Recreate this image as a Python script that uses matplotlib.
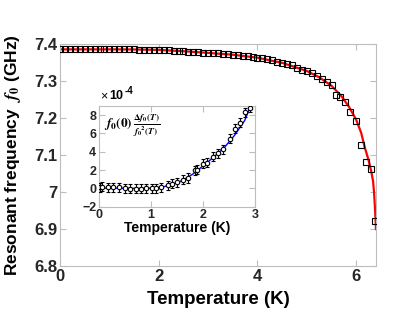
import numpy as np
import matplotlib
matplotlib.use("Agg")
import matplotlib.pyplot as plt

plt.rcParams["font.family"] = ["Liberation Sans", "DejaVu Sans"]
plt.rcParams["font.weight"] = "bold"
plt.rcParams["mathtext.fontset"] = "stix"

# main panel: measured resonance (GHz) vs temperature (K)
t_meas = [0.0, 0.1, 0.2, 0.3, 0.4, 0.5, 0.6, 0.7, 0.8, 0.9, 1.0, 1.1, 1.2, 1.3, 1.4,
          1.5, 1.6, 1.7, 1.8, 1.9, 2.0, 2.1, 2.2, 2.3, 2.4, 2.5, 2.6, 2.7, 2.8, 2.9,
          3.0, 3.1, 3.2, 3.3, 3.4, 3.5, 3.6, 3.7, 3.8, 3.9, 4.0, 4.1, 4.2, 4.3, 4.4,
          4.5, 4.6, 4.7, 4.8, 4.9, 5.0, 5.1, 5.2, 5.3, 5.4, 5.5,
          5.60, 5.68, 5.78, 5.88, 5.99, 6.09, 6.19, 6.29, 6.39]
f_meas = [7.3855, 7.3855, 7.3855, 7.3855, 7.3855, 7.3855, 7.3855, 7.3855, 7.3855, 7.3855,
          7.3855, 7.3855, 7.3855, 7.3855, 7.3853, 7.3852, 7.3851, 7.3850, 7.3847, 7.3843,
          7.3840, 7.3835, 7.3830, 7.3820, 7.3810, 7.3805, 7.3795, 7.3790, 7.3780, 7.3770,
          7.3760, 7.3750, 7.3745, 7.3735, 7.3725, 7.3710, 7.3695, 7.3680, 7.3665, 7.3650,
          7.3630, 7.3610, 7.3585, 7.3560, 7.3525, 7.3490, 7.3455, 7.3420, 7.3350, 7.3310,
          7.3265, 7.3215, 7.3135, 7.3055, 7.2970, 7.2880,
          7.262, 7.257, 7.242, 7.217, 7.193, 7.127, 7.082, 7.062, 6.922]

# main panel: fitted curve
t_fit = [0.0, 1.0, 1.5, 2.0, 2.5, 3.0, 3.5, 4.0, 4.5, 5.0, 5.25, 5.5, 5.7, 5.85,
         6.0, 6.1, 6.17, 6.25, 6.3, 6.34, 6.36, 6.38, 6.4]
f_fit = [7.3855, 7.3855, 7.3852, 7.384, 7.3805, 7.376, 7.371, 7.363, 7.349, 7.327,
         7.310, 7.287, 7.259, 7.231, 7.195, 7.160, 7.122, 7.086, 7.058, 7.030,
         7.000, 6.955, 6.900]

# inset: fractional shift (x1e-4)
t_in = [0.01, 0.06, 0.17, 0.27, 0.39, 0.49, 0.60, 0.71, 0.80, 0.90, 1.01, 1.10, 1.20,
        1.33, 1.41, 1.49, 1.62, 1.71, 1.84, 1.89, 2.00, 2.07, 2.19, 2.29, 2.38,
        2.51, 2.61, 2.71, 2.81, 2.90]
d_in = [0.14, 0.20, 0.14, 0.10, 0.10, 0.03, -0.05, -0.05, -0.05, -0.01, 0.03, 0.03, 0.10,
        0.36, 0.50, 0.65, 0.94, 1.13, 1.97, 2.05, 2.71, 2.78, 3.44, 3.81, 4.25,
        5.43, 6.53, 7.19, 8.29, 8.80]
d_err = [0.5] * len(t_in)

t_in_fit = [0.0, 0.4, 0.8, 1.0, 1.2, 1.4, 1.6, 1.8, 2.0, 2.2, 2.4, 2.6, 2.8, 2.9]
d_in_fit = [0.05, 0.02, 0.0, 0.02, 0.12, 0.40, 0.85, 1.55, 2.45, 3.40, 4.40, 5.75, 7.40, 8.80]

SPINE = "#bdbdbd"


def style(ax, size):
    for s in ax.spines.values():
        s.set_color(SPINE); s.set_linewidth(0.8)
    ax.tick_params(direction="in", which="both", top=True, right=True, color=SPINE,
                   length=4, width=0.8, labelsize=size, labelcolor="#262626", pad=2)
    for lab in ax.get_xticklabels() + ax.get_yticklabels():
        lab.set_fontweight("bold")


fig = plt.figure(figsize=(4.15, 3.25), dpi=100)
ax = fig.add_axes([0.1446, 0.1815, 0.7614, 0.6831])
ax.plot(t_fit, f_fit, color="red", lw=1.6, zorder=2)
ax.plot(t_meas, f_meas, ls="none", marker="s", ms=5, mfc="none", mec="black", mew=0.8, zorder=3)
ax.set_xlim(0, 6.4); ax.set_ylim(6.8, 7.4)
ax.set_xticks([0, 2, 4, 6])
ax.set_yticks([6.8, 6.9, 7.0, 7.1, 7.2, 7.3, 7.4])
ax.set_yticklabels(["6.8", "6.9", "7", "7.1", "7.2", "7.3", "7.4"])
style(ax, 12)
ax.set_xlabel("Temperature (K)", fontsize=13.5, fontweight="bold", labelpad=5)
ax.set_ylabel(r"Resonant frequency  $\mathbfit{f}_\mathbf{0}$ (GHz)", fontsize=12.5,
              fontweight="bold", labelpad=8)

ins = fig.add_axes([0.2386, 0.364, 0.376, 0.31])
ins.plot(t_in_fit, d_in_fit, color="blue", lw=1.0, zorder=2)
ins.errorbar(t_in, d_in, yerr=d_err, ls="none", marker="o", ms=3.2, mfc="white", mec="black",
             mew=0.8, ecolor="black", elinewidth=0.8, capsize=1.2, zorder=3)
ins.set_xlim(0, 3); ins.set_ylim(-2, 9)
ins.set_xticks([0, 1, 2, 3]); ins.set_yticks([-2, 0, 2, 4, 6, 8])
style(ins, 9)
ins.set_xlabel("Temperature (K)", fontsize=10, fontweight="bold", labelpad=0)
ins.text(0.03, 0.80, r"$f_0(0)\,\frac{\Delta f_0(T)}{{f_0}^2(T)}$", transform=ins.transAxes,
         fontsize=9.5, fontweight="normal", ha="left", va="center")
fig.text(0.241, 0.686, "\u00d7", fontsize=9, fontweight="normal", ha="left", va="bottom")
fig.text(0.263, 0.686, "10", fontsize=9, fontweight="bold", ha="left", va="bottom")
fig.text(0.300, 0.706, "-4", fontsize=7, fontweight="bold", ha="left", va="bottom")

fig.savefig("out.png", dpi=100)
